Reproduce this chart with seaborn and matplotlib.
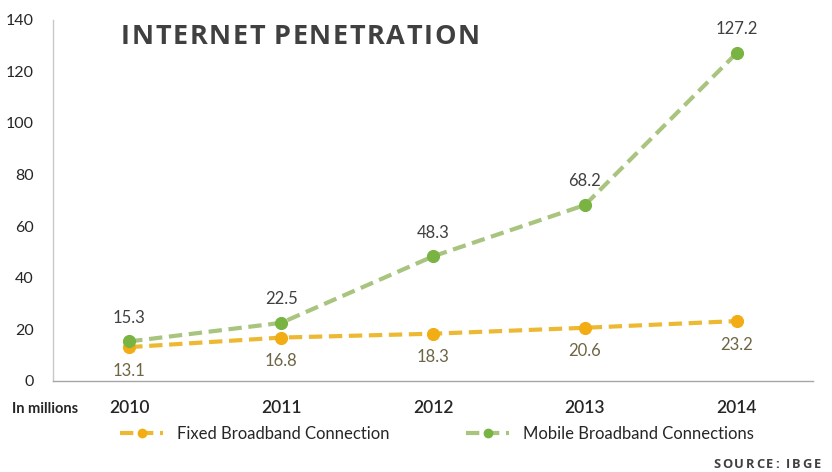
import matplotlib
matplotlib.use("Agg")
import matplotlib.pyplot as plt
from matplotlib.lines import Line2D
import seaborn as sns
import pandas as pd

years = ["2010", "2011", "2012", "2013", "2014"]
fixed = [13.1, 16.8, 18.3, 20.6, 23.2]
mobile = [15.3, 22.5, 48.3, 68.2, 127.2]
series_names = ["Fixed Broadband Connection", "Mobile Broadband Connections"]

sns.set_theme(style="white")
plt.rcParams["font.family"] = ["Lato", "DejaVu Sans"]

df = pd.DataFrame({
    "pos": list(range(len(years))) * 2,
    "value": fixed + mobile,
    "series": [series_names[0]] * len(years) + [series_names[1]] * len(years),
})

fig = plt.figure(figsize=(8.32, 4.72), dpi=100)
ax = fig.add_axes([0.064, 0.193, 0.913, 0.765])

fixed_line, fixed_marker = "#EDB933", "#F2AD14"
mobile_line, mobile_marker = "#A8C47E", "#79B443"
dash = (3.2, 1.6)

for name, lc, mc in [(series_names[0], fixed_line, fixed_marker),
                     (series_names[1], mobile_line, mobile_marker)]:
    sub = df[df["series"] == name]
    sns.lineplot(data=sub, x="pos", y="value", ax=ax, color=lc, linewidth=3.0,
                 legend=False, zorder=2)
    ax.lines[-1].set_dashes(dash)
    sns.scatterplot(data=sub, x="pos", y="value", ax=ax, color=mc, s=75,
                    edgecolor=mc, linewidth=0.8, legend=False, zorder=3)

for i, v in enumerate(mobile):
    ax.annotate(f"{v}", (i, v), xytext=(0, 17), textcoords="offset points",
                ha="center", va="center", fontsize=12, color="#404040")
for i, v in enumerate(fixed):
    ax.annotate(f"{v}", (i, v), xytext=(0, -17), textcoords="offset points",
                ha="center", va="center", fontsize=12, color="#6E6544")

ax.set_xlim(-0.5, len(years) - 0.5)
ax.set_ylim(0, 140)
ax.set_yticks(range(0, 141, 20))
ax.set_xticks(range(len(years)))
ax.set_xticklabels(years, fontsize=12.5, color="#262626", fontweight="semibold")
ax.tick_params(axis="y", labelsize=11.5, labelcolor="#262626", length=0, pad=14)
ax.tick_params(axis="x", length=0, pad=14)
ax.set_xlabel("")
ax.set_ylabel("")

for s in ["top", "right"]:
    ax.spines[s].set_visible(False)
ax.spines["left"].set_color("#C8C8C8")
ax.spines["left"].set_linewidth(1.0)
ax.spines["bottom"].set_color("#A6A6A6")
ax.spines["bottom"].set_linewidth(1.0)

# Letter-spaced text: place each glyph and advance by its width plus tracking
def tracked_text(x_px, y_frac, text, tracking_px, **kw):
    renderer = fig.canvas.get_renderer()
    x = x_px
    for ch in text:
        t = fig.text(x / fig.bbox.width, y_frac, ch, ha="left", va="center", **kw)
        w = t.get_window_extent(renderer=renderer).width
        if ch == " ":
            w = kw.get("fontsize", 12) * 0.3
        x += w + tracking_px
    return x

tracked_text(121, 0.922, "INTERNET PENETRATION", 1.6, fontsize=19.5,
             fontweight="bold", color="#404040",
             family=["Open Sans", "DejaVu Sans"])

fig.text(0.014, 0.134, "In millions", fontsize=10.5, fontweight="bold",
         color="#262626", va="center", ha="left")

tracked_text(713, 0.016, "SOURCE: IBGE", 1.9, fontsize=9.3, fontweight="bold",
             color="#404040", family=["Open Sans", "DejaVu Sans"])

handles = [
    Line2D([0], [0], color=fixed_line, linewidth=3.0, dashes=dash,
           marker="o", markersize=6, markerfacecolor=fixed_marker,
           markeredgecolor=fixed_marker),
    Line2D([0], [0], color=mobile_line, linewidth=3.0, dashes=dash,
           marker="o", markersize=6, markerfacecolor=mobile_marker,
           markeredgecolor=mobile_marker),
]
fig.legend(handles, series_names, loc="center", bbox_to_anchor=(0.525, 0.08),
           ncol=2, frameon=False, fontsize=12, handlelength=2.6,
           columnspacing=4.6, labelcolor="#262626", markerscale=1.0)

fig.savefig("out.png", dpi=100)
